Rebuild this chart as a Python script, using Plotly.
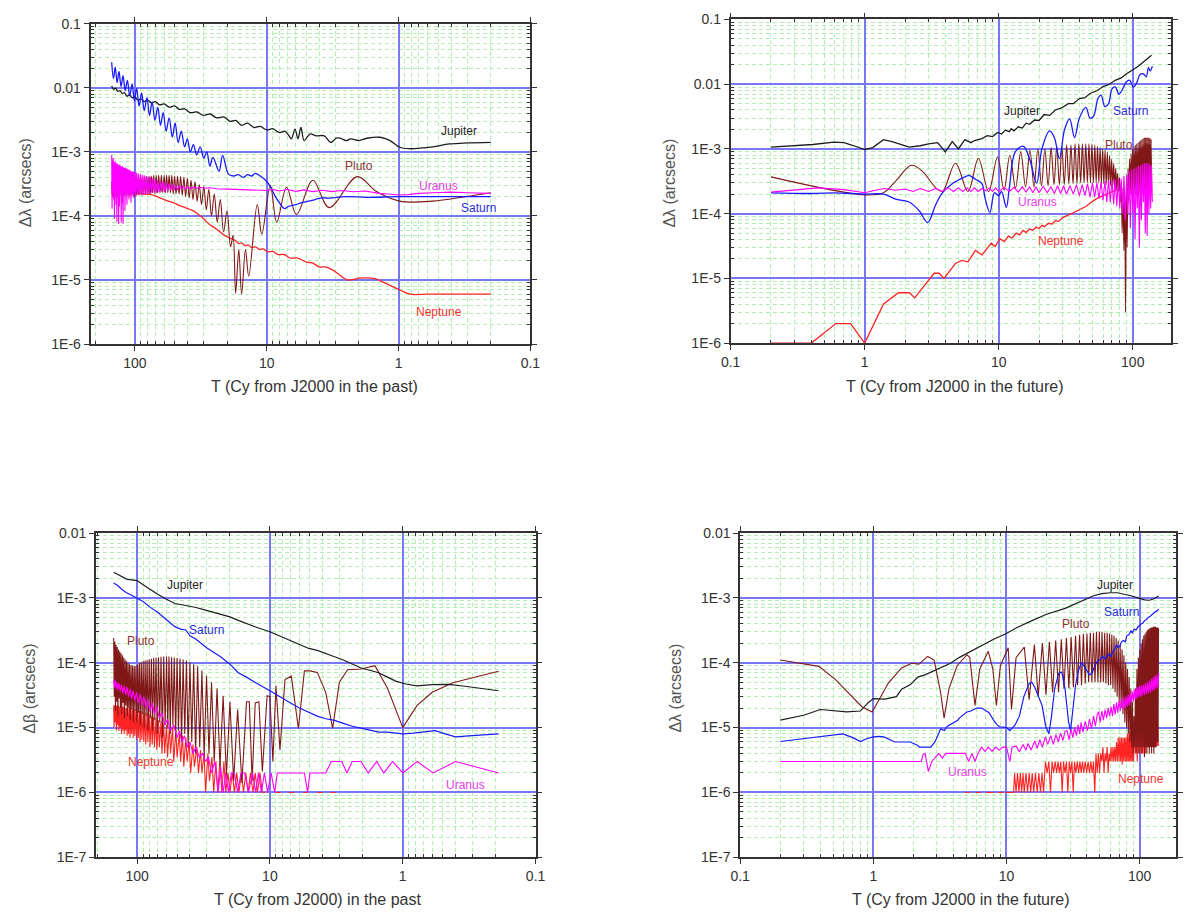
import math
import plotly.graph_objects as go

# ------------------------------------------------------------------ data
# each list holds (T in Cy, value in arcsec) pairs

# ---------- top-left: past, delta lambda
TL_JUP = [(150,0.0107),(145,0.0095),(140,0.0099),(135,0.0088),(130,0.0090),(125,0.0082),(120,0.0084),(115,0.0074),
          (110,0.0078),(105,0.0070),(100,0.0072),(95,0.0064),(90,0.0067),(85,0.0061),(80,0.0064),(75,0.0058),(70,0.0061),
          (65,0.0054),(60,0.0056),(55,0.0050),(50,0.0052),(46,0.0046),(42,0.0047),(38,0.0041),(34,0.0042),(30,0.0037),
          (27,0.0039),(24,0.0034),(21,0.0035),(19,0.0030),(17.2,0.0031),(15.5,0.0026),(14,0.0028),(12.5,0.0024),
          (11.2,0.0025),(10,0.0022),(9,0.0023),(8,0.0020),(7.3,0.0021),(6.8,0.0018),(6.5,0.0016),(6.1,0.00226),
          (5.8,0.0016),(5.5,0.0024),(5.2,0.0015),(4.7,0.0019),(4.2,0.00178),(3.66,0.00178),(3.26,0.0014),(2.95,0.00165),
          (2.75,0.00163),(2.5,0.0015),(2.31,0.00159),(2.0,0.0015),(1.74,0.00163),(1.38,0.00169),(1.16,0.0015),
          (0.98,0.00118),(0.82,0.00112),(0.69,0.00114),(0.55,0.0012),(0.41,0.00133),(0.3,0.00138),(0.2,0.00141)]
TL_SAT = [(150,0.025),(145.5,0.014),(141,0.021),(136.5,0.012),(132,0.018),(127.5,0.0105),(123,0.0155),(118.5,0.009),
          (114,0.013),(109.5,0.0075),(105,0.0115),(101,0.0063),(97,0.0098),(93,0.0052),(89,0.0083),(85,0.0044),
          (81,0.007),(77.5,0.0037),(74,0.006),(70.5,0.0031),(67,0.005),(64,0.0026),(61,0.0041),(58,0.0021),
          (55,0.0034),(52,0.0017),(49.5,0.0028),(47,0.0014),(44.5,0.0021),(42,0.0012),(40,0.0016),(38,0.001),
          (36,0.0013),(34,0.0009),(32,0.0012),(30,0.0008),(28.5,0.001),(27,0.0006),(25.6,0.00082),(23,0.0005),
          (21.6,0.00088),(19.5,0.00045),(17.8,0.00042),(16.5,0.00044),(15,0.0004),(14,0.00044),(13,0.00042),
          (12.2,0.00046),(11.2,0.00042),(10.2,0.00036),(9.5,0.0003),(8.6,0.0002),(8.0,0.00016),(7.3,0.00013),
          (6.9,0.00014),(6.0,0.00015),(5.5,0.00016),(4.8,0.00017),(4.3,0.00018),(3.9,0.00019),(3.3,0.00019),
          (2.5,0.0002),(1.74,0.000195),(1.0,0.0002),(0.5,0.0002),(0.2,0.0002)]
TL_URA = [(150,9e-4),(149,1.3e-4),(148,7.5e-4),(147,2.5e-4),(146,8e-4),(145,1.8e-4),(144,7e-4),(143,9e-5),(142,6.8e-4),
          (141,2.2e-4),(140,7e-4),(139,1.5e-4),(138,6.5e-4),(137,8e-5),(136,6.6e-4),(135,2e-4),(134,6.3e-4),(133,7.5e-5),
          (132,6.2e-4),(131,1.4e-4),(130,6.4e-4),(129,2.2e-4),(128,6e-4),(127,8e-5),(126,5.8e-4),(125,1.6e-4),(124,6e-4),
          (123,7.5e-5),(122,5.7e-4),(121,2.3e-4),(120,5.6e-4),(119,1.2e-4),(118,5.7e-4),(117,2.1e-4),(116,5.5e-4),
          (115,1.5e-4),(114,5.4e-4),(113,2.2e-4),(112,5.3e-4),(111,1.8e-4),(110,5.2e-4),(109,2.1e-4),(108,5.1e-4),
          (107,1.6e-4),(106,5e-4),(105,2.2e-4),(104,4.9e-4),(103,1.9e-4),(102,5e-4),(101,2.2e-4),(100,4.8e-4),
          (98.5,2e-4),(97,4.7e-4),(95.5,2.2e-4),(94,4.6e-4),(92.5,2.1e-4),(91,4.5e-4),(89.5,2.2e-4),(88,4.4e-4),
          (86.5,2.1e-4),(85,4.3e-4),(83.5,2.2e-4),(82,4.2e-4),(80.5,2.2e-4),(79,4.1e-4),(77.5,2.2e-4),(76,4e-4),
          (74.5,2.3e-4),(73,3.9e-4),(71.5,2.3e-4),(70,3.7e-4),(68.5,2.3e-4),(67,3.6e-4),(65.5,2.35e-4),(64,3.5e-4),
          (62.5,2.4e-4),(61,3.4e-4),(59.5,2.4e-4),(58,3.3e-4),(56.5,2.45e-4),(55,3.2e-4),(53.5,2.5e-4),(52,3.1e-4),
          (50.5,2.5e-4),(49,3.05e-4),(47.5,2.55e-4),(46,3e-4),(44.5,2.6e-4),(43,2.95e-4),(41.5,2.6e-4),(40,2.9e-4),
          (38,2.65e-4),(36,2.85e-4),(34,2.7e-4),(32,2.8e-4),(30,2.7e-4),(27,2.75e-4),(24,2.65e-4),(20,2.62e-4),
          (16,2.6e-4),(12,2.57e-4),(10,2.5e-4),(9,2.6e-4),(8,2.45e-4),(7,2.58e-4),(6,2.42e-4),(5.2,2.55e-4),
          (4.5,2.4e-4),(3.8,2.52e-4),(3.2,2.4e-4),(2.7,2.5e-4),(2.2,2.38e-4),(1.8,2.45e-4),(1.4,2.25e-4),(1.2,2.2e-4),
          (1.0,2.12e-4),(0.85,2.15e-4),(0.7,2.25e-4),(0.55,2.3e-4),(0.4,2.35e-4),(0.3,2.3e-4),(0.2,2.25e-4)]
TL_NEP = [(150,2.3e-4),(130,2.3e-4),(110,2.3e-4),(95,2.25e-4),(85,2.2e-4),(75,2.15e-4),(70,2.05e-4),(64,1.9e-4),
          (58,1.75e-4),(51,1.6e-4),(43,1.38e-4),(36,1.2e-4),(31,9.5e-5),(27.3,7.4e-5),(24,6.2e-5),(21.6,5.2e-5),
          (19.5,4.6e-5),(17.2,4.1e-5),(16.3,3.7e-5),(15.5,3.8e-5),(14.6,3.45e-5),(13.8,3.5e-5),(13,3.2e-5),
          (12.2,3.3e-5),(11.4,3.0e-5),(10.6,3.05e-5),(9.8,2.75e-5),(9.0,2.8e-5),(8.2,2.5e-5),(7.4,2.5e-5),
          (6.6,2.2e-5),(5.8,2.2e-5),(5.0,1.9e-5),(4.5,1.85e-5),(4.0,1.6e-5),(3.6,1.6e-5),(3.2,1.45e-5),(2.8,1.2e-5),
          (2.46,1.0e-5),(2.2,1.02e-5),(2.0,1.07e-5),(1.74,1.08e-5),(1.5,1.05e-5),(1.3,9.2e-6),(1.1,7.8e-6),
          (0.95,6.8e-6),(0.82,6e-6),(0.6,6e-6),(0.4,6e-6),(0.2,6e-6)]
TL_PLU = [(150,3.4e-4),(148.5,2.0e-4),(147,3.5e-4),(145.5,1.9e-4),(144,3.4e-4),(142.5,2.1e-4),(141,3.6e-4),(139.5,2.0e-4),
          (138,3.5e-4),(136.5,1.9e-4),(135,3.5e-4),(133.5,2.0e-4),(132,3.6e-4),(130.5,2.0e-4),(129,3.5e-4),(127.5,2.1e-4),
          (126,3.6e-4),(124.5,2.0e-4),(123,3.6e-4),(121.5,2.0e-4),(120,3.7e-4),(118.5,2.1e-4),(117,3.6e-4),(115.5,2.0e-4),
          (114,3.7e-4),(112.5,2.1e-4),(111,3.7e-4),(109.5,2.0e-4),(108,3.8e-4),(106.5,2.1e-4),(105,3.7e-4),(103.5,2.1e-4),
          (102,3.8e-4),(100.5,2.0e-4),(99,3.8e-4),(97.5,2.1e-4),(96,3.9e-4),(94.5,2.1e-4),(93,3.9e-4),(91.5,2.2e-4),
          (90,4.0e-4),(88.5,2.1e-4),(87,4.0e-4),(85.5,2.2e-4),(84,4.1e-4),(82.5,2.2e-4),(81,4.1e-4),(79.5,2.2e-4),
          (78,4.2e-4),(76.5,2.2e-4),(75,4.2e-4),(73.5,2.3e-4),(72,4.3e-4),(70.5,2.2e-4),(69,4.3e-4),(67.5,2.3e-4),
          (66,4.3e-4),(64.5,2.3e-4),(63,4.3e-4),(61.5,2.3e-4),(60,4.3e-4),(58.75,2.3e-4),(57.5,4.3e-4),(56.25,2.3e-4),
          (55,4.3e-4),(53.75,2.3e-4),(52.5,4.3e-4),(51.25,2.2e-4),(50,4.2e-4),(48.75,2.2e-4),(47.5,4.2e-4),(46.25,2.2e-4),
          (45,4.1e-4),(43.75,2.1e-4),(42.5,4.0e-4),(41.25,2.0e-4),(40,3.9e-4),(38.75,1.9e-4),(37.5,3.6e-4),(36.25,1.8e-4),
          (35,3.4e-4),(33.75,1.7e-4),(32.5,3.1e-4),(31.25,1.5e-4),(30,2.9e-4),(28.75,1.25e-4),(27.5,2.6e-4),(26.25,1.0e-4),
          (25,2.2e-4),(23.75,8e-5),(22.5,1.8e-4),(21.25,5.6e-5),(20,1.2e-4),(18.8,3.3e-5),(18.0,5e-5),(17.2,6.2e-6),
          (16.3,3e-5),(15.5,6e-6),(14.5,3e-5),(13.7,1.15e-5),(11.8,1.5e-4),(10.9,5.2e-5),(9.4,3e-4),(8.4,8e-5),
          (7.07,2.8e-4),(5.95,1.05e-4),(4.47,3.6e-4),(3.36,1.35e-4),(2.06,4.1e-4),(1.47,2.4e-4),(0.98,1.7e-4),
          (0.55,1.7e-4),(0.31,2e-4),(0.2,2.3e-4)]

# ---------- top-right: future, delta lambda
TR_JUP = [(0.2,1.07e-3),(0.3,1.12e-3),(0.41,1.17e-3),(0.59,1.27e-3),(0.7,1.25e-3),(0.8,1.15e-3),(1.0,9.8e-4),
          (1.15,1.05e-3),(1.38,1.39e-3),(1.6,1.3e-3),(1.77,1.22e-3),(2.15,1.07e-3),(2.6,1.12e-3),(3.0,1.2e-3),
          (3.5,1.25e-3),(4.0,9e-4),(4.5,1.3e-3),(5.0,1.0e-3),(5.6,1.39e-3),(6.2,1.25e-3),(6.6,1.35e-3),(7.5,1.44e-3),
          (8.2,1.6e-3),(9,1.55e-3),(9.8,1.8e-3),(10.5,1.7e-3),(11.2,1.95e-3),(12,1.85e-3),(12.4,2.05e-3),(13,1.9e-3),
          (14,2.2e-3),(15,2.1e-3),(16,2.5e-3),(17,2.4e-3),(18.5,2.8e-3),(20,2.75e-3),(21.8,3.4e-3),(24,3.3e-3),
          (26.5,4e-3),(29.5,4.3e-3),(33,5e-3),(36,5e-3),(40,6e-3),(44,6.2e-3),(48,7.2e-3),(54.5,8e-3),(60,9.2e-3),
          (66,9.8e-3),(74,1.15e-2),(82,1.25e-2),(90,1.45e-2),(100,1.65e-2),(110,1.9e-2),(120,2.2e-2),(131,2.6e-2),
          (138,2.8e-2)]
TR_SAT = [(0.2,2.1e-4),(0.4,2.05e-4),(0.6,2.1e-4),(0.8,2.05e-4),(1,2e-4),(1.38,2e-4),(1.73,1.66e-4),(2.16,1.5e-4),
          (2.56,1.1e-4),(2.95,7.3e-5),(3.4,1.4e-4),(3.8,2.1e-4),(4.5,2.9e-4),(5.6,3.7e-4),(6.0,3.9e-4),(6.7,3.4e-4),
          (7.5,2.9e-4),(7.9,1.75e-4),(8.6,1.04e-4),(9.3,2.1e-4),(10,1.9e-4),(10.5,2.2e-4),(11.4,1.25e-4),(12,2.5e-4),
          (13.3,9e-4),(15.3,1.1e-3),(17,7e-4),(19.2,2.96e-4),(21,1e-3),(24,1.9e-3),(26,1.5e-3),(28.4,7.1e-4),(31,2e-3),
          (33.8,2.9e-3),(36.8,1.5e-3),(40,3e-3),(44.7,4.4e-3),(48,3e-3),(51,3.2e-3),(55,6e-3),(58,6.8e-3),(62,4.5e-3),
          (66,5e-3),(70,8.5e-3),(74,9.1e-3),(79,7e-3),(83,8e-3),(90,1.1e-2),(95,1.15e-2),(101,9e-3),(107,1.05e-2),
          (113,1.4e-2),(120,1.45e-2),(126,1.3e-2),(131,1.8e-2),(135,1.6e-2),(140,1.9e-2)]
TR_URA = [(0.2,2.15e-4),(0.45,2.5e-4),(0.7,2.35e-4),(1.0,2.1e-4),(1.2,2.3e-4),(1.4,2.45e-4),(1.7,2.3e-4),(2.0,2.4e-4),
          (2.3,2.2e-4),(2.6,2.45e-4),(3.0,2.2e-4),(3.4,2.45e-4),(3.8,2.2e-4),(4.2,2.5e-4),(4.6,2.2e-4),(5.0,2.5e-4),
          (5.4,2.2e-4),(5.8,2.5e-4),(6.2,2.2e-4),(6.6,2.5e-4),(7.0,2.2e-4),(7.5,2.45e-4),(8.0,2.25e-4),(8.5,2.5e-4),
          (9.0,2.2e-4),(9.5,2.5e-4),(10,2.2e-4),(11,2.55e-4),(12,2.2e-4),(13,2.55e-4),(14,2.15e-4),(15,2.6e-4),
          (16,2.15e-4),(17,2.6e-4),(18,2.1e-4),(19,2.6e-4),(20,2.1e-4),(21.5,2.65e-4),(23,2.1e-4),(24.5,2.6e-4),
          (26,2.05e-4),(27.5,2.7e-4),(29,2.05e-4),(30.5,2.7e-4),(32,2.0e-4),(34,2.7e-4),(36,2.0e-4),(38,2.8e-4),
          (40,1.9e-4),(42,2.8e-4),(44,1.9e-4),(46,2.9e-4),(48,1.8e-4),(50,3e-4),(52,1.8e-4),(54,3e-4),(56,1.7e-4),
          (58,3.1e-4),(60,1.6e-4),(62,3.2e-4),(64,1.5e-4),(66,3.3e-4),(68,1.5e-4),(70,3.3e-4),(72,1.4e-4),(74,3.4e-4),
          (76,1.3e-4),(78,3.5e-4),(80,1.2e-4),(82,3.5e-4),(84,1e-4),(86,3.8e-4),(88,8e-5),(90,4e-4),(92,1e-4),
          (94,4.5e-4),(96,6e-5),(98,4.8e-4),(100,1e-4),(102,5e-4),(104,4e-5),(106,5.2e-4),(108,1.2e-4),(110,5.5e-4),
          (112,3e-5),(114,5.5e-4),(116,8e-5),(118,5.8e-4),(120,1.5e-4),(122,6e-4),(124,5e-5),(126,6e-4),(128,4.5e-5),
          (130,6e-4),(132,1e-4),(134,5.8e-4),(136,1.2e-4),(138,5.5e-4),(140,1.5e-4)]
TR_NEP = [(0.2,1e-6),(0.4,1e-6),(0.61,2e-6),(0.785,2e-6),(1.0,1e-6),(1.38,4e-6),(1.78,6e-6),(2.16,6e-6),(2.36,5e-6),
          (2.7,7e-6),(3.3,1.2e-5),(3.6,1.2e-5),(3.9,1e-5),(4.76,1.7e-5),(5.3,1.9e-5),(5.9,1.8e-5),(6.7,2.7e-5),
          (7.5,2.3e-5),(8.8,3.5e-5),(9.4,3.1e-5),(10.2,4.1e-5),(11.0,3.7e-5),(11.8,4.5e-5),(12.6,4.2e-5),(13.5,5e-5),
          (14.3,4.7e-5),(15.2,5.5e-5),(16,5.1e-5),(17,5.8e-5),(18,5.5e-5),(19,6.2e-5),(20,5.9e-5),(21,6.6e-5),
          (22,6.3e-5),(23.5,7.1e-5),(25,6.9e-5),(26.5,7.8e-5),(28,7.6e-5),(30,8.7e-5),(33,9.5e-5),(36,1.05e-4),
          (40,1.15e-4),(45,1.3e-4),(50,1.55e-4),(55,1.75e-4),(62,1.95e-4),(70,2.2e-4),(78,2.4e-4)]
TR_PLU = [(0.2,3.7e-4),(1.0,1.95e-4),(1.38,2.1e-4),(1.73,3.3e-4),(2.23,5.6e-4),(2.7,4.5e-4),(3.4,2.5e-4),(3.8,2.2e-4),
          (4.76,6e-4),(5.9,2.2e-4),(7.05,7.1e-4),(8.4,2.2e-4),(9.8,7.5e-4),(10.95,2.3e-4),(12.1,8e-4),(13.35,2.5e-4),
          (14.6,9e-4),(15.85,2.6e-4),(17.1,9.5e-4),(18.35,2.6e-4),(19.6,1e-3),(20.85,2.7e-4),(22.1,1e-3),(23.35,2.7e-4),
          (24.6,1.05e-3),(25.85,2.8e-4),(27.1,1.1e-3),(28.35,2.8e-4),(29.6,1.1e-3),(30.85,2.8e-4),(32.1,1.15e-3),
          (33.35,2.9e-4),(34.6,1.15e-3),(35.85,2.9e-4),(37.1,1.2e-3),(38.35,2.9e-4),(39.6,1.2e-3),(40.85,3e-4),
          (42.1,1.2e-3),(43.35,3e-4),(44.6,1.2e-3),(45.85,3e-4),(47.1,1.2e-3),(48.35,3e-4),(49.6,1.2e-3),(50.85,3e-4),
          (52.1,1.15e-3),(53.35,3e-4),(54.6,1.1e-3),(55.85,3e-4),(57.1,1.05e-3),(58.35,2.9e-4),(59.6,1e-3),
          (60.85,2.9e-4),(62.1,9.5e-4),(63.35,2.8e-4),(64.6,9e-4),(65.85,2.8e-4),(67.1,8e-4),(68.35,2.7e-4),(69.6,7e-4),
          (70.85,2.6e-4),(72.1,6e-4),(73.35,2.5e-4),(74.6,5e-4),(75.85,2.4e-4),(77.1,4.2e-4),(78.35,2.2e-4),
          (79.6,3.6e-4),(80.85,1.5e-4),(82.1,3e-4),(83.35,5e-5),(84.6,2.5e-4),(85.85,2.7e-5),(87.1,2.2e-4),
          (88.35,3e-6),(89.6,2.5e-4),(90.85,3e-5),(92.1,5e-4),(93.35,1.5e-4),(94.6,7e-4),(95.85,2e-4),(97.1,8.5e-4),
          (98.35,2e-4),(99.6,1e-3),(100.85,2e-4),(102.1,1.1e-3),(103.35,2e-4),(104.6,1.15e-3),(105.85,1.9e-4),
          (107.1,1.2e-3),(108.35,2e-4),(109.6,1.25e-3),(110.85,1.9e-4),(112.1,1.3e-3),(113.35,2e-4),(114.6,1.35e-3),
          (115.85,1.9e-4),(117.1,1.4e-3),(118.35,2e-4),(119.6,1.45e-3),(120.85,1.9e-4),(122.1,1.5e-3),(123.35,2e-4),
          (124.6,1.5e-3),(125.85,1.9e-4),(127.1,1.5e-3),(128.35,2e-4),(129.6,1.5e-3),(130.85,1.9e-4),(132.1,1.5e-3),
          (133.35,2e-4),(134.6,1.45e-3),(135.85,2e-4),(137.1,1.4e-3),(138.35,2.1e-4)]

# ---------- bottom-left: past, delta beta
BL_JUP = [(150,2.48e-3),(140,2.3e-3),(130,2.1e-3),(120,1.95e-3),(110,1.9e-3),(100,1.85e-3),(90,1.6e-3),(80,1.35e-3),
          (70,1.14e-3),(60,9.5e-4),(52,8.2e-4),(44,7.7e-4),(36,7.1e-4),(30,6.4e-4),(23.5,5.6e-4),(20,5.1e-4),
          (17.3,4.5e-4),(15,4.0e-4),(12.8,3.55e-4),(10,3e-4),(8.5,2.6e-4),(7,2.2e-4),(6,1.95e-4),(5.1,1.66e-4),
          (4.4,1.55e-4),(3.8,1.4e-4),(3.3,1.25e-4),(2.8,1.1e-4),(2.4,9.5e-5),(2.06,8.3e-5),(1.75,7.6e-5),(1.52,7e-5),
          (1.3,6e-5),(1.13,5.2e-5),(0.95,4.7e-5),(0.78,4.4e-5),(0.6,4.6e-5),(0.45,4.65e-5),(0.33,4.3e-5),(0.25,4e-5),
          (0.19,3.7e-5)]
BL_SAT = [(150,1.7e-3),(140,1.55e-3),(130,1.35e-3),(120,1.2e-3),(110,1.1e-3),(100,1.0e-3),(90,8.8e-4),(80,7.2e-4),
          (70,6.0e-4),(60,4.6e-4),(52,3.6e-4),(47,3.3e-4),(43,3.2e-4),(40,2.6e-4),(36,2.3e-4),(30,1.7e-4),
          (23.5,1.24e-4),(20,9.5e-5),(17.3,7e-5),(15,6e-5),(12.8,4.9e-5),(10,3.7e-5),(8.5,3e-5),(7,2.4e-5),(6,2e-5),
          (5.1,1.7e-5),(4.4,1.5e-5),(3.8,1.37e-5),(3.3,1.3e-5),(2.8,1.16e-5),(2.4,1.05e-5),(2.06,9.8e-6),
          (1.75,9.2e-6),(1.52,8.5e-6),(1.3,8.5e-6),(1.13,8.2e-6),(1.0,8e-6),(0.83,8.2e-6),(0.7,8.5e-6),(0.57,9e-6),
          (0.48,8e-6),(0.4,7.2e-6),(0.3,7.5e-6),(0.19,8e-6)]
BL_URA = [(150,5.5e-5),(148,4.2e-5),(146,5.3e-5),(144,4e-5),(142,5e-5),(140,3.8e-5),(137,4.8e-5),(134,3.6e-5),
          (131,4.6e-5),(128,3.4e-5),(125,4.4e-5),(122,3.2e-5),(119,4.2e-5),(116,3.0e-5),(113,4.0e-5),(110,2.8e-5),
          (107,3.7e-5),(104,2.6e-5),(101,3.5e-5),(98,2.4e-5),(95,3.3e-5),(92,2.2e-5),(89,3.0e-5),(86,2.0e-5),
          (83,2.75e-5),(80,1.8e-5),(77,2.4e-5),(74,1.6e-5),(71,2.1e-5),(68,1.4e-5),(65,1.7e-5),(62,1.1e-5),
          (59,1.35e-5),(56,9e-6),(53,1.1e-5),(50,7e-6),(48,9e-6),(46,6e-6),(44,7.5e-6),(42,5e-6),(40,6e-6),(38,4e-6),
          (36,5e-6),(34,3.5e-6),(32,4e-6),(30.5,3e-6),(29,3.5e-6),(27.5,2e-6),(26,3e-6),(24.5,1e-6),(23.5,2.5e-6),
          (22.5,1e-6),(21.5,2e-6),(20.5,1e-6),(19.5,2e-6),(18.5,2e-6),(17.5,1e-6),(16.5,2e-6),(15.5,2e-6),
          (14.5,1e-6),(13.5,2e-6),(12.8,1e-6),(12.2,2e-6),(11.6,1e-6),(11.0,2e-6),(10.4,1e-6),(9.8,2e-6),(9.2,1e-6),
          (8.8,2e-6),(8.4,2e-6),(7,2e-6),(5.5,2e-6),(5.2,1e-6),(5.0,2e-6),(3.8,2e-6),(3.45,3e-6),(2.88,3e-6),
          (2.63,2e-6),(2.4,3e-6),(2.06,3e-6),(1.82,2e-6),(1.57,3e-6),(1.39,2e-6),(1.19,3e-6),(1.0,2e-6),(0.78,3e-6),
          (0.59,2e-6),(0.4,3e-6),(0.19,2e-6)]
BL_NEP = [(150,2.2e-5),(149,1e-5),(147,2.2e-5),(146,1.2e-5),(144,2.2e-5),(143,9e-6),(141,2.2e-5),(140,1.1e-5),
          (138,2.2e-5),(137,9e-6),(135,2.1e-5),(134,1e-5),(132,2.1e-5),(131,8e-6),(129,2.1e-5),(128,9e-6),(126,2.1e-5),
          (125,8e-6),(123,2.0e-5),(122,9e-6),(120,2.0e-5),(119,7.5e-6),(117,2.0e-5),(116,8e-6),(114,2.0e-5),(113,7e-6),
          (111,2.0e-5),(110,8e-6),(108,1.9e-5),(107,7e-6),(105,1.9e-5),(104,7.5e-6),(102,1.9e-5),(101,6.5e-6),
          (99,1.85e-5),(98,7e-6),(96,1.8e-5),(95,6e-6),(93,1.8e-5),(92,6.5e-6),(90,1.75e-5),(89,6e-6),(87,1.7e-5),
          (86,5.5e-6),(84,1.7e-5),(83,6e-6),(81,1.6e-5),(80,5e-6),(78,1.5e-5),(77,5.5e-6),(75,1.45e-5),(74,5e-6),
          (72,1.4e-5),(71,4.5e-6),(69,1.3e-5),(68,5e-6),(66,1.25e-5),(65,4e-6),(63,1.2e-5),(62,4e-6),(60,1.1e-5),
          (59,3.5e-6),(57,1.05e-5),(56,4e-6),(54,1e-5),(53,3e-6),(51,9e-6),(50,3.5e-6),(48,8e-6),(47,3e-6),
          (45.5,7.5e-6),(44.5,2.5e-6),(43,7e-6),(42,3e-6),(40.5,6e-6),(39.5,2e-6),(38,5.5e-6),(37,2.5e-6),(35.5,5e-6),
          (34.5,2e-6),(33.3,4.5e-6),(32.5,2e-6),(31.3,4e-6),(30.5,1e-6),(29.3,4e-6),(28.5,1.5e-6),(27.3,3.5e-6),
          (26.5,1e-6),(25.5,3e-6),(24.7,1e-6),(23.8,3e-6),(23,1e-6),(22.2,3e-6),(21.5,1e-6),(20.7,2e-6),(20,1e-6),
          (19.2,2e-6),(18.5,1e-6),(17.8,2e-6),(17.1,1e-6),(16.4,2e-6),(15.8,1e-6),(15.2,2e-6),(14.6,1e-6),(14,2e-6),
          (13.4,1e-6),(12.9,2e-6),(12.4,1e-6),(11.9,2e-6),(11.4,1e-6),(10.9,1e-6),(10.0,None),(9.0,1e-6),(8.3,1e-6),
          (7.8,None),(7.2,1e-6),(6.6,1e-6),(6.1,None),(5.6,1e-6),(5.2,1e-6),(4.8,None),(4.4,1e-6),(4.0,1e-6),
          (3.8,None),(3.5,1e-6),(3.2,1e-6)]
BL_PLU = [(150,2.4e-4),(148.5,3e-5),(147,2.1e-4),(145.5,1.8e-5),(144,1.9e-4),(142.5,2.5e-5),(141,1.75e-4),(139.5,1.5e-5),
          (138,1.6e-4),(136.5,2.8e-5),(135,1.5e-4),(133.5,2e-5),(132,1.4e-4),(130.5,1.6e-5),(129,1.3e-4),(127.5,2.4e-5),
          (126,1.2e-4),(124.5,1.4e-5),(123,1.12e-4),(121.5,2.2e-5),(120,1.05e-4),(118.5,1.5e-5),(117,1e-4),(115.5,2e-5),
          (114,9.5e-5),(112.5,1.3e-5),(111,9.2e-5),(109.5,1.9e-5),(108,9e-5),(106.5,1.2e-5),(105,8.8e-5),(103.5,1.8e-5),
          (102,9e-5),(100.5,1.2e-5),(99,9.4e-5),(97.5,1.7e-5),(96,9.8e-5),(94.5,1.1e-5),(93,1.02e-4),(91.5,1.6e-5),
          (90,1.05e-4),(88.5,1e-5),(87,1.08e-4),(85.5,1.5e-5),(84,1.1e-4),(82.5,9e-6),(81,1.13e-4),(79.5,1.4e-5),
          (78,1.15e-4),(76.5,9e-6),(75,1.18e-4),(73.5,1.3e-5),(72,1.2e-4),(70.5,8e-6),(69,1.22e-4),(67.5,1.2e-5),
          (66,1.24e-4),(64.5,7e-6),(63,1.25e-4),(61.5,1.1e-5),(60,1.25e-4),(58.75,1e-5),(57.5,1.25e-4),(56.25,8e-6),
          (55,1.22e-4),(53.75,1.1e-5),(52.5,1.2e-4),(51.25,7e-6),(50,1.18e-4),(48.75,9e-6),(47.5,1.15e-4),(46.25,6e-6),
          (45,1.12e-4),(43.75,8e-6),(42.5,1.08e-4),(41.25,5e-6),(40,1.02e-4),(38.75,6e-6),(37.5,9.5e-5),(36.25,4e-6),
          (35,8.8e-5),(33.75,5e-6),(32.5,7.5e-5),(31.25,3.5e-6),(30,6.3e-5),(28.75,4e-6),(27.5,5e-5),(26.25,3e-6),
          (25,4e-5),(23.75,2.5e-6),(22.5,3.1e-5),(21.25,1.8e-6),(20,2.5e-5),(18.75,1.5e-6),(17.5,1.9e-5),(16.25,1.4e-6),
          (15,2.5e-5),(14.3,2.5e-5),(13.6,1.5e-6),(12.9,2.4e-5),(12.1,2.5e-5),(11.4,2.1e-6),(10.5,3.1e-5),(10.0,3.0e-5),
          (9.5,3e-6),(9.0,4.4e-5),(8.4,4.5e-6),(7.7,5.5e-5),(6.9,6.2e-5),(6.1,9.7e-6),(5.5,7.5e-5),(5.0,7.5e-5),
          (4.4,7.1e-5),(3.8,3.5e-5),(3.37,9.7e-6),(3.0,5e-5),(2.6,7.8e-5),(2.06,8e-5),(1.62,9e-5),(1.3,4e-5),
          (1.0,1e-5),(0.78,2.2e-5),(0.6,3.5e-5),(0.42,4.9e-5),(0.19,7.4e-5)]

# ---------- bottom-right: future, second quantity
BR_JUP = [(0.2,1.3e-5),(0.3,1.55e-5),(0.4,1.9e-5),(0.52,1.8e-5),(0.63,1.75e-5),(0.8,1.8e-5),(0.91,2.4e-5),(1.0,2.8e-5),
          (1.22,2.75e-5),(1.49,3e-5),(1.63,3.9e-5),(1.9,4.6e-5),(2.16,6e-5),(2.44,6.5e-5),(2.86,7.5e-5),(3.3,8.5e-5),
          (3.8,9.8e-5),(4.4,1.2e-4),(5.05,1.4e-4),(5.8,1.6e-4),(6.7,1.9e-4),(8,2.3e-4),(9.9,2.8e-4),(12,3.5e-4),
          (15.7,4.5e-4),(20,5.6e-4),(27.6,6.9e-4),(36.3,9e-4),(45,1.08e-3),(52,1.16e-3),(60,1.2e-3),(68,1.2e-3),
          (76,1.15e-3),(86,1.08e-3),(97,1e-3),(109,9.3e-4),(118,9.2e-4),(127,9.6e-4),(139,1.07e-3)]
BR_SAT = [(0.2,6.1e-6),(0.3,6.8e-6),(0.39,7.2e-6),(0.52,7.7e-6),(0.59,8e-6),(0.7,7e-6),(0.8,6.1e-6),(0.9,6.8e-6),
          (1.0,7.2e-6),(1.1,7.3e-6),(1.2,7.2e-6),(1.45,6e-6),(1.9,6e-6),(2.16,5.3e-6),(2.22,5e-6),(2.7,5e-6),(2.9,6e-6),
          (3.2,9.5e-6),(3.4,9e-6),(3.6,1.05e-5),(4.0,1.2e-5),(4.3,1.3e-5),(4.5,1.45e-5),(5.05,1.74e-5),(5.4,1.8e-5),
          (6.0,2e-5),(6.5,2e-5),(6.8,1.9e-5),(7.1,1.8e-5),(7.4,1.7e-5),(8.0,1.3e-5),(8.5,1.1e-5),(8.9,1.03e-5),
          (10,1e-5),(10.6,9e-6),(11.2,1e-5),(11.6,1.1e-5),(12.5,1.5e-5),(13.5,3e-5),(14.8,4.8e-5),(15.5,5e-5),
          (16.3,4.2e-5),(17.5,3e-5),(18.5,2.2e-5),(19.7,1.05e-5),(20.8,8e-6),(21.8,1.5e-5),(23,4e-5),(24.7,6.9e-5),
          (26,7.2e-5),(27.5,4e-5),(29.3,1.2e-5),(30.3,9e-6),(31.5,2e-5),(33,4.5e-5),(34.7,7.6e-5),(36.5,1e-4),
          (38,9e-5),(40,7.5e-5),(42,6.5e-5),(44,7e-5),(46,9e-5),(48,1.05e-4),(50,1.1e-4),(52.5,1.25e-4),(55,1.15e-4),
          (57,1.3e-4),(59,1.35e-4),(61,1.25e-4),(63,1.5e-4),(65,1.6e-4),(67,1.9e-4),(69,1.7e-4),(71,1.8e-4),
          (73,2.1e-4),(75.5,2.2e-4),(78,2.1e-4),(80,2.6e-4),(83,2.7e-4),(86,3.1e-4),(88,2.9e-4),(91,3.3e-4),
          (94,3.2e-4),(97,3.6e-4),(100,3.7e-4),(103,4e-4),(106,4.1e-4),(109,4.5e-4),(112,4.6e-4),(116,5e-4),
          (120,5.2e-4),(124,5.6e-4),(127,5.8e-4),(131,6.1e-4),(135,6.3e-4),(139,6.7e-4)]
BR_URA = [(0.2,3e-6),(1,3e-6),(2.29,3e-6),(2.36,3.8e-6),(2.45,4e-6),(2.59,2.1e-6),(2.75,3e-6),(3.1,4e-6),(3.3,3.4e-6),
          (3.5,4e-6),(4.0,4e-6),(4.5,4e-6),(4.9,4e-6),(5.2,3e-6),(5.5,4e-6),(5.8,3e-6),(6.1,4e-6),(6.5,5e-6),
          (6.9,4.3e-6),(7.3,5e-6),(7.8,4.3e-6),(8.3,5e-6),(8.8,4.5e-6),(9.4,5e-6),(10,5e-6),(10.6,3e-6),(11.0,5e-6),
          (11.8,5.2e-6),(12.5,4.2e-6),(13.3,5.5e-6),(14,4.5e-6),(14.5,5.7e-6),(15.3,4.5e-6),(16.3,6.2e-6),(17,4.8e-6),
          (17.8,6.5e-6),(18.6,5e-6),(19.6,7.2e-6),(20.4,5.5e-6),(21.5,7.5e-6),(22.5,5.5e-6),(23.5,7.8e-6),(24.5,6e-6),
          (25.5,8.3e-6),(26.5,6.3e-6),(27.5,8.7e-6),(28.5,9e-6),(29.5,6.5e-6),(30.5,9.5e-6),(31.5,7e-6),(32.5,1e-5),
          (33.5,7.5e-6),(34.5,1.1e-5),(35.5,8e-6),(36.3,1.2e-5),(37.5,8.5e-6),(39,1.25e-5),(40.5,9e-6),(42,1.35e-5),
          (43.5,9.5e-6),(45,1.5e-5),(46.5,1.05e-5),(48,1.6e-5),(49.3,1.75e-5),(50.5,1.2e-5),(52,1.8e-5),(53.5,1.3e-5),
          (55,1.9e-5),(56.5,1.4e-5),(58,2e-5),(59.5,1.5e-5),(61,2.1e-5),(62.5,1.5e-5),(64,2.3e-5),(65.5,1.6e-5),
          (67,2.45e-5),(68.5,1.7e-5),(70,2.6e-5),(71.5,1.8e-5),(73,2.7e-5),(74.5,1.9e-5),(76,2.9e-5),(77.5,2e-5),
          (79,3e-5),(80.5,2.1e-5),(82,3.2e-5),(83.5,2.2e-5),(85,3.4e-5),(86.5,2.4e-5),(88,3.6e-5),(89.5,2.5e-5),
          (91,3.9e-5),(92.5,2.7e-5),(94,4e-5),(95.5,2.8e-5),(97,4.2e-5),(98.5,3e-5),(100,4.4e-5),(101.5,3e-5),
          (103,4.5e-5),(105,3.1e-5),(107,4.6e-5),(109,3.2e-5),(111,4.8e-5),(113,3.3e-5),(115,5e-5),(117,3.4e-5),
          (119,5.3e-5),(121,3.5e-5),(123,5.6e-5),(125,3.7e-5),(127,6e-5),(129,3.8e-5),(131,6.3e-5),(133,4e-5),
          (135,6.6e-5),(137,4.2e-5),(139,7e-5)]
BR_NEP = [(4.9,1e-6),(5.3,1e-6),(5.6,None),(5.9,1e-6),(6.4,1e-6),(6.7,None),(7.0,1e-6),(7.6,1e-6),(8.0,1e-6),(8.3,None),
          (8.6,1e-6),(9.4,1e-6),(9.6,None),(9.8,1e-6),(10.3,1e-6),(11.3,1e-6),(11.5,2e-6),(11.8,1e-6),(12.1,2e-6),
          (12.4,1e-6),(12.7,2e-6),(13.0,1e-6),(13.3,2e-6),(13.6,1e-6),(14.0,2e-6),(14.4,1e-6),(14.8,2e-6),(15.2,1e-6),
          (15.6,2e-6),(16.0,1e-6),(16.5,2e-6),(17,1e-6),(17.5,2e-6),(18,1e-6),(18.5,2e-6),(19,1e-6),(19.6,3e-6),
          (20.2,2e-6),(20.8,3e-6),(21.4,1e-6),(22,3e-6),(22.6,2e-6),(23.2,3e-6),(23.8,2e-6),(24.4,3e-6),(25,2e-6),
          (25.6,3e-6),(26.2,1e-6),(26.8,3e-6),(27.5,2e-6),(28.2,3e-6),(28.9,1e-6),(29.6,3e-6),(30.3,2e-6),(31,3e-6),
          (31.7,1e-6),(32.4,3e-6),(33.2,2e-6),(34,3e-6),(34.8,2e-6),(35.6,3e-6),(36.4,2e-6),(37.2,3e-6),(38,2e-6),
          (39,3e-6),(40,2e-6),(41,3e-6),(42,2e-6),(43,3e-6),(44,2e-6),(45,3e-6),(46,1e-6),(47,4e-6),(48,2e-6),
          (49,4e-6),(50,2e-6),(51,4e-6),(52,3e-6),(53,5e-6),(54,2e-6),(55,4e-6),(56,3e-6),(57,5e-6),(58,2e-6),
          (59,4e-6),(60,3e-6),(61,5e-6),(62,3e-6),(63,5e-6),(64,3e-6),(65,5e-6),(66,3e-6),(67,6e-6),(68,3e-6),
          (69,7e-6),(70,3e-6),(71,7e-6),(72,3e-6),(73,7e-6),(74,2.7e-6),(75,7e-6),(76,3e-6),(77,7e-6),(78,3e-6),
          (79,7e-6),(80,3e-6),(81,8e-6),(82,3e-6),(83,8e-6),(84,3e-6),(85,9e-6),(86,3e-6),(87,1e-5),(88,3e-6),
          (89,1e-5),(90,3e-6),(91.5,1e-5),(93,4e-6),(94.5,1e-5),(96,3e-6),(97.5,1e-5),(99,4e-6),(100.5,1e-5),
          (102,4e-6),(103.5,1e-5),(105,4e-6),(106.5,1.1e-5),(108,4e-6),(109.5,1.2e-5),(111,4e-6),(112.5,1.2e-5),
          (114,5e-6),(115.5,1.2e-5),(117,5e-6),(118.5,1.2e-5),(120,5e-6),(121.5,1.2e-5),(123,5e-6),(124.5,1.3e-5),
          (126,5e-6),(127.5,1.3e-5),(129,5e-6),(130.5,1.3e-5),(132,5e-6),(133.5,1.3e-5),(135,5.2e-6),(136.5,1.3e-5),
          (138,5.2e-6)]
BR_PLU = [(0.2,1.1e-4),(0.39,8.8e-5),(0.52,5.5e-5),(0.66,3.3e-5),(0.82,2.1e-5),(0.98,1.74e-5),(1.3,4.9e-5),
          (1.63,8.3e-5),(1.94,9.8e-5),(2.2,9.5e-5),(2.56,1.25e-4),(2.86,1.1e-4),(3.2,3.5e-5),(3.4,1.4e-5),(3.7,4e-5),
          (4.26,9e-5),(5.05,1.33e-4),(5.3,1.2e-4),(5.8,2.2e-5),(6.3,8e-5),(7.3,1.5e-4),(7.9,8e-5),(8.4,2.2e-5),
          (9.0,9e-5),(10.3,1.7e-4),(10.9,1.9e-5),(11.8,1.2e-4),(13.6,1.75e-4),(14.8,2.7e-5),(16.2,1.9e-4),(17.3,3e-5),
          (18.6,2e-4),(19.8,3.2e-5),(21,2.1e-4),(22.2,3.5e-5),(23.4,2.2e-4),(24.6,3.5e-5),(25.8,2.3e-4),(27,4e-5),
          (28.2,2.4e-4),(29.4,4e-5),(30.6,2.5e-4),(31.8,4.2e-5),(33,2.6e-4),(34.2,4.5e-5),(35.4,2.7e-4),(36.6,4.5e-5),
          (37.8,2.8e-4),(39,4.8e-5),(40.2,2.8e-4),(41.4,5e-5),(42.6,2.9e-4),(43.8,5e-5),(45,2.9e-4),(46.2,5e-5),
          (47.4,3e-4),(48.6,5e-5),(49.8,3e-4),(51,5e-5),(52.2,3e-4),(53.4,5e-5),(54.6,2.9e-4),(55.8,4.8e-5),
          (57,2.9e-4),(58.2,4.5e-5),(59.4,2.8e-4),(60.6,4.5e-5),(61.8,2.7e-4),(63,4e-5),(64.2,2.6e-4),(65.4,3.5e-5),
          (66.6,2.4e-4),(67.8,3e-5),(69,2.2e-4),(70.2,2.5e-5),(71.4,1.9e-4),(72.6,2e-5),(73.8,1.6e-4),(75,1.6e-5),
          (76.2,1.3e-4),(77.4,1.2e-5),(78.6,1e-4),(79.8,1e-5),(81,8e-5),(82.2,8e-6),(83.4,6e-5),(84.6,6e-6),
          (85.8,4e-5),(87,5e-6),(88.2,2.5e-5),(89.4,4e-6),(90.6,1.5e-5),(91.8,5e-6),(93,4e-5),(94.2,4e-6),(95.4,8e-5),
          (96.6,5e-6),(97.8,1.2e-4),(99,4e-6),(100.2,1.6e-4),(101.4,5e-6),(102.6,2e-4),(103.8,4e-6),(105,2.3e-4),
          (106.2,5e-6),(107.4,2.6e-4),(108.6,3.5e-6),(109.8,2.8e-4),(111,5e-6),(112.2,3e-4),(113.4,4e-6),(114.6,3.2e-4),
          (115.8,5e-6),(117,3.3e-4),(118.2,4e-6),(119.4,3.4e-4),(120.6,5e-6),(121.8,3.5e-4),(123,4e-6),(124.2,3.5e-4),
          (125.4,5e-6),(126.6,3.6e-4),(127.8,4e-6),(129,3.6e-4),(130.2,5e-6),(131.4,3.6e-4),(132.6,5e-6),
          (133.8,3.5e-4),(135,6e-6),(136.2,3.5e-4),(137.4,6e-6),(138.6,3.4e-4)]

# label positions (T, value) and texts
LABELS = {
    "1": [("Jupiter", 0.35, 2.1e-3), ("Pluto", 2.0, 6e-4), ("Uranus", 0.5, 2.95e-4), ("Saturn", 0.247, 1.35e-4), ("Neptune", 0.49, 3.2e-6)],
    "2": [("Jupiter", 15, 3.8e-3), ("Saturn", 96, 3.9e-3), ("Pluto", 79, 1.13e-3), ("Uranus", 19.6, 1.5e-4), ("Neptune", 29, 3.8e-5)],
    "3": [("Jupiter", 43.7, 1.57e-3), ("Saturn", 30, 3.2e-4), ("Pluto", 94, 2.15e-4), ("Neptune", 79, 3e-6), ("Uranus", 0.336, 1.3e-6)],
    "4": [("Jupiter", 65, 1.6e-3), ("Saturn", 73.6, 6e-4), ("Pluto", 33, 4e-4), ("Uranus", 5.1, 2.1e-6), ("Neptune", 102, 1.6e-6)],
}
X_TICKS = [0.1, 1, 10, 100]
X_TICKTEXT = ["0.1", "1", "10", "100"]
Y_TICKS_TOP = [1e-6, 1e-5, 1e-4, 1e-3, 1e-2, 1e-1]
Y_TICKTEXT_TOP = ["1E-6", "1E-5", "1E-4", "1E-3", "0.01", "0.1"]
Y_TICKS_BOT = [1e-7, 1e-6, 1e-5, 1e-4, 1e-3, 1e-2]
Y_TICKTEXT_BOT = ["1E-7", "1E-6", "1E-5", "1E-4", "1E-3", "0.01"]

# ------------------------------------------------------------------ style
FONT = "Liberation Sans, Arial, sans-serif"
COL = {"Jupiter": "#1c1c1c", "Saturn": "#1a1aff", "Uranus": "#ff00ff", "Neptune": "#ff2424", "Pluto": "#801818"}
LABCOL = {"Jupiter": "#262626", "Saturn": "#2b2be0", "Uranus": "#e840e8", "Neptune": "#f23434", "Pluto": "#8b3333"}
W, H = 1186, 922

fig = go.Figure()


def add(pts, ax, name, width=1.0, shape="linear"):
    xs = [p[0] for p in pts]
    ys = [p[1] for p in pts]
    sfx = "" if ax == "1" else ax
    fig.add_trace(go.Scatter(x=xs, y=ys, mode="lines", name=name,
                             line=dict(color=COL[name], width=width, shape=shape),
                             xaxis="x" + sfx, yaxis="y" + sfx, showlegend=False,
                             hoverinfo="skip", connectgaps=False))


# panel 1 (top-left)
add(TL_NEP, "1", "Neptune", 1.3, "spline")
add(TL_PLU, "1", "Pluto", 1.1, "spline")
add(TL_JUP, "1", "Jupiter", 1.3, "spline")
add(TL_SAT, "1", "Saturn", 1.3, "spline")
add(TL_URA, "1", "Uranus", 1.1, "linear")
# panel 2 (top-right)
add(TR_NEP, "2", "Neptune", 1.3, "linear")
add(TR_PLU, "2", "Pluto", 1.1, "spline")
add(TR_JUP, "2", "Jupiter", 1.3, "linear")
add(TR_SAT, "2", "Saturn", 1.3, "spline")
add(TR_URA, "2", "Uranus", 1.1, "linear")
# panel 3 (bottom-left)
add(BL_NEP, "3", "Neptune", 1.1, "linear")
add(BL_PLU, "3", "Pluto", 1.1, "linear")
add(BL_JUP, "3", "Jupiter", 1.2, "linear")
add(BL_SAT, "3", "Saturn", 1.2, "linear")
add(BL_URA, "3", "Uranus", 1.1, "linear")
# panel 4 (bottom-right)
add(BR_NEP, "4", "Neptune", 1.1, "linear")
add(BR_PLU, "4", "Pluto", 1.1, "linear")
add(BR_JUP, "4", "Jupiter", 1.2, "linear")
add(BR_SAT, "4", "Saturn", 1.2, "linear")
add(BR_URA, "4", "Uranus", 1.1, "linear")

X_MINOR = [m * 10.0 ** e for e in range(-1, 3) for m in range(2, 10)]
Y_MINOR_TOP = [m * 10.0 ** e for e in range(-6, -1) for m in range(2, 10)]
Y_MINOR_BOT = [m * 10.0 ** e for e in range(-7, -2) for m in range(2, 10)]


def axis(domain, rng, tv, tt, minor_vals, anchor):
    return dict(type="log", domain=domain, range=rng, anchor=anchor,
                tickmode="array", tickvals=tv, ticktext=tt,
                ticks="outside", ticklen=5, tickwidth=1.2, tickcolor="#333",
                showline=True, linecolor="#333", linewidth=1.8, mirror="allticks",
                showgrid=True, gridcolor="#7878f6", gridwidth=1.5, zeroline=False,
                tickfont=dict(family=FONT, size=14, color="#333"),
                minor=dict(tickmode="array", tickvals=minor_vals, ticks="inside", ticklen=3,
                           tickcolor="#333", showgrid=True, gridcolor="#b2f0b2",
                           griddash="4px,3px", gridwidth=1))


fig.update_layout(
    width=W, height=H, autosize=False,
    margin=dict(l=0, r=0, t=0, b=0, pad=0),
    paper_bgcolor="white", plot_bgcolor="white",
    xaxis=axis([82 / W, 529.3 / W], [2.336, -1], X_TICKS, X_TICKTEXT, X_MINOR, "y"),
    yaxis=axis([1 - 342 / H, 1 - 16 / H], [-6, -1], Y_TICKS_TOP, Y_TICKTEXT_TOP, Y_MINOR_TOP, "x"),
    xaxis2=axis([733 / W, 1181 / W], [-1, 2.286], X_TICKS, X_TICKTEXT, X_MINOR, "y2"),
    yaxis2=axis([1 - 341 / H, 1 - 11.7 / H], [-6, -1], Y_TICKS_TOP, Y_TICKTEXT_TOP, Y_MINOR_TOP, "x2"),
    xaxis3=axis([87.5 / W, 534.6 / W], [2.309, -1], X_TICKS, X_TICKTEXT, X_MINOR, "y3"),
    yaxis3=axis([1 - 864.3 / H, 1 - 534.3 / H], [-7, -2], Y_TICKS_BOT, Y_TICKTEXT_BOT, Y_MINOR_BOT, "x3"),
    xaxis4=axis([742.7 / W, 1.0], [-1, 2.273], X_TICKS, X_TICKTEXT, X_MINOR, "y4"),
    yaxis4=axis([1 - 864.3 / H, 1 - 534.3 / H], [-7, -2], Y_TICKS_BOT, Y_TICKTEXT_BOT, Y_MINOR_BOT, "x4"),
)

ann = []
for ax, items in LABELS.items():
    sfx = "" if ax == "1" else ax
    for text, t, v in items:
        ann.append(dict(x=math.log10(t), y=math.log10(v), xref="x" + sfx, yref="y" + sfx, text=text,
                        xanchor="center", yanchor="middle",
                        showarrow=False, font=dict(family=FONT, size=12, color=LABCOL[text])))

TITLES_X = [("T (Cy from J2000 in the past)", 310, 385), ("T (Cy from J2000 in the future)", 961, 385),
            ("T (Cy from J2000) in the past", 312.5, 907), ("T (Cy from J2000 in the future)", 967, 907)]
TITLES_Y = [("Δλ (arcsecs)", 16.5, 178), ("Δλ (arcsecs)", 671, 178),
            ("Δβ (arcsecs)", 20, 693), ("Δλ (arcsecs)", 677, 692)]
for text, x, y in TITLES_X:
    ann.append(dict(x=x / W, y=1 - y / H, xref="paper", yref="paper", text=text, showarrow=False,
                    xanchor="center", yanchor="middle",
                    font=dict(family=FONT, size=16, color="#333")))
for text, x, y in TITLES_Y:
    ann.append(dict(x=x / W, y=1 - y / H, xref="paper", yref="paper", text=text, showarrow=False,
                    xanchor="center", yanchor="middle",
                    textangle=-90, font=dict(family=FONT, size=16, color="#555")))
fig.update_layout(annotations=ann)

# remove the default page margin so the figure sits at the window's top-left corner
fig.write_html("out.html", config={"displayModeBar": False},
               post_script="document.body.style.margin='0px';document.body.style.overflow='hidden';")
